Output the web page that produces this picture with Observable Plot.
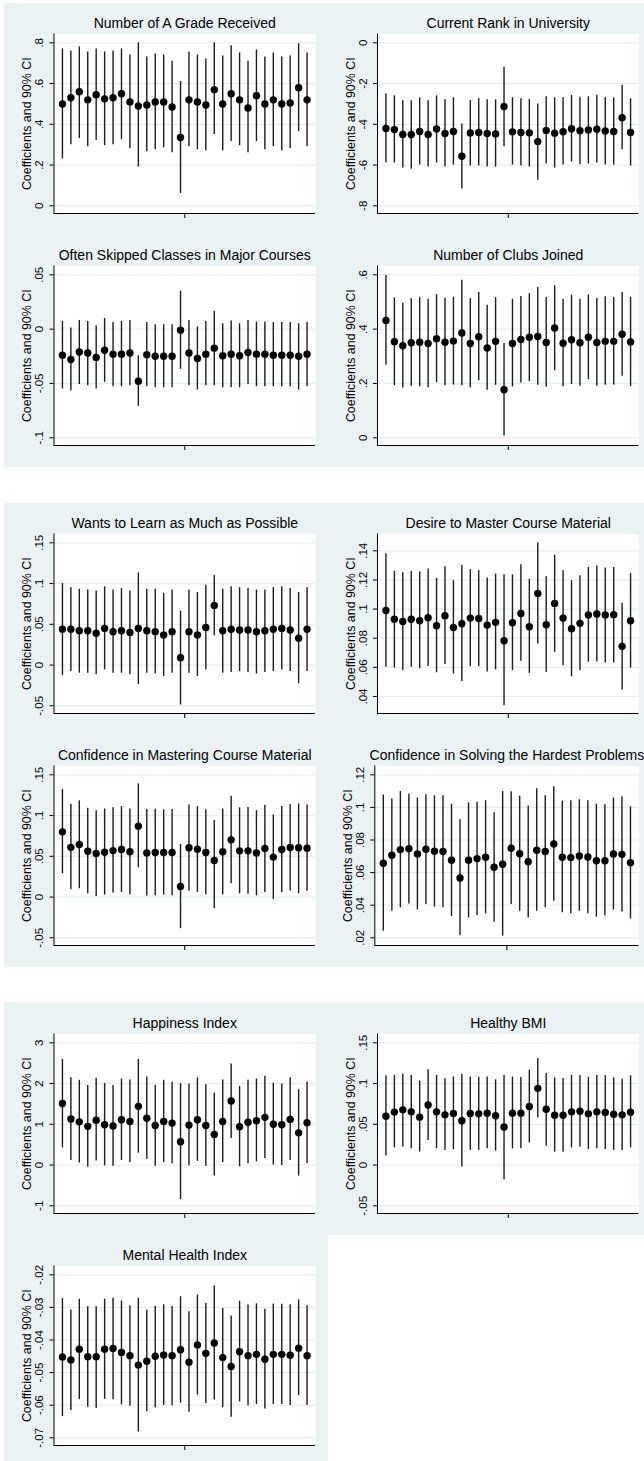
<!DOCTYPE html>
<html><head><meta charset="utf-8">
<script src="https://cdn.jsdelivr.net/npm/d3@7"></script>
<script src="https://cdn.jsdelivr.net/npm/@observablehq/plot@0.6"></script>
<style>
html,body{margin:0;padding:0;background:#fff;}
#root{position:relative;width:644px;height:1461px;overflow:hidden;background:#fff;font-family:"Liberation Sans",Arial,Helvetica,sans-serif;}
.bg{position:absolute;background:#EAF2F3;}
.cell{position:absolute;width:322px;height:232px;}
</style></head><body><div id="root"></div>
<script>
// ---------- data (coefficient, lower and upper 90% CI), 30 specifications each ----------
const yAxisLabel = "Coefficients and 90% CI";

const titles = [
  "Number of A Grade Received", "Current Rank in University",
  "Often Skipped Classes in Major Courses", "Number of Clubs Joined",
  "Wants to Learn as Much as Possible", "Desire to Master Course Material",
  "Confidence in Mastering Course Material", "Confidence in Solving the Hardest Problems",
  "Happiness Index", "Healthy BMI", "Mental Health Index"
];

const gradeCoef = [.50,.53,.56,.52,.545,.525,.53,.55,.51,.49,.495,.51,.51,.485,.335,.52,.51,.495,.57,.50,.55,.52,.48,.54,.50,.52,.50,.505,.58,.52];
const gradeHi   = [.77,.76,.78,.755,.77,.755,.76,.77,.74,.80,.73,.745,.74,.71,.61,.755,.74,.72,.80,.735,.785,.75,.71,.765,.73,.75,.73,.735,.795,.75];
const gradeLo   = [.23,.30,.33,.29,.32,.295,.30,.325,.28,.19,.265,.275,.285,.26,.06,.29,.275,.27,.35,.27,.315,.295,.26,.315,.275,.29,.27,.28,.365,.29];
const gradeTicks = [0,.2,.4,.6,.8];

const rankCoef = [-4.2,-4.26,-4.5,-4.5,-4.35,-4.5,-4.23,-4.45,-4.35,-5.57,-4.43,-4.4,-4.45,-4.47,-3.13,-4.37,-4.4,-4.42,-4.85,-4.3,-4.44,-4.36,-4.22,-4.32,-4.28,-4.24,-4.33,-4.35,-3.68,-4.4];
const rankHi   = [-2.5,-2.6,-2.85,-2.85,-2.7,-2.85,-2.6,-2.8,-2.7,-3.98,-2.83,-2.75,-2.8,-2.8,-1.2,-2.7,-2.75,-2.78,-3.0,-2.65,-2.7,-2.7,-2.58,-2.68,-2.65,-2.58,-2.7,-2.7,-2.1,-2.75];
const rankLo   = [-5.9,-5.9,-6.15,-6.2,-6.0,-6.1,-5.9,-6.1,-6.0,-7.17,-6.05,-6.05,-6.1,-6.1,-5.1,-6.0,-6.05,-6.1,-6.75,-5.95,-6.15,-6.0,-5.85,-5.98,-5.95,-5.9,-6.0,-6.0,-5.25,-6.05];
const rankTicks = [-8,-6,-4,-2,0];

const skipCoef = [-.024,-.028,-.021,-.022,-.026,-.0195,-.023,-.023,-.022,-.048,-.0235,-.025,-.025,-.025,-.001,-.022,-.027,-.023,-.0175,-.0245,-.023,-.0245,-.0215,-.023,-.023,-.024,-.024,-.024,-.025,-.023];
const skipHi   = [.007,.001,.008,.007,.003,.0098,.006,.007,.008,-.0245,.006,.004,.004,.004,.035,.008,.002,.007,.0165,.005,.0075,.005,.008,.0065,.0065,.006,.006,.006,.005,.006];
const skipLo   = [-.055,-.057,-.051,-.052,-.055,-.049,-.053,-.053,-.052,-.071,-.053,-.054,-.054,-.054,-.037,-.052,-.056,-.052,-.052,-.054,-.054,-.054,-.051,-.053,-.053,-.053,-.053,-.053,-.056,-.053];
const skipTicks = [-.1,-.05,0,.05];

const clubCoef = [.432,.354,.339,.35,.352,.347,.365,.352,.356,.386,.347,.372,.331,.355,.177,.347,.362,.37,.373,.351,.404,.348,.361,.35,.37,.351,.355,.355,.381,.353];
const clubHi   = [.597,.515,.495,.512,.516,.51,.527,.514,.518,.58,.512,.535,.488,.516,.347,.51,.52,.531,.553,.516,.56,.51,.525,.51,.526,.513,.519,.516,.535,.517];
const clubLo   = [.267,.192,.183,.19,.188,.184,.203,.192,.194,.192,.184,.21,.175,.193,.007,.187,.202,.207,.193,.186,.247,.188,.196,.19,.214,.19,.193,.194,.227,.188];
const clubTicks = [0,.2,.4,.6];

const learnCoef = [.044,.044,.042,.042,.039,.045,.041,.042,.040,.045,.042,.041,.037,.041,.009,.041,.037,.046,.073,.042,.044,.043,.043,.041,.042,.044,.045,.043,.033,.044];
const learnHi   = [.100,.095,.093,.092,.091,.096,.092,.094,.091,.113,.093,.093,.088,.092,.066,.092,.089,.098,.110,.093,.096,.095,.094,.092,.092,.095,.096,.094,.089,.095];
const learnLo   = [-.013,-.008,-.010,-.010,-.012,-.006,-.010,-.010,-.012,-.024,-.010,-.011,-.014,-.010,-.049,-.010,-.014,-.006,.036,-.010,-.009,-.008,-.009,-.011,-.009,-.008,-.006,-.008,-.023,-.008];
const learnTicks = [-.05,0,.05,.1,.15];

const masterCoef = [.099,.093,.0915,.093,.092,.094,.0886,.0955,.0874,.090,.0938,.0936,.089,.0909,.0783,.0906,.097,.0879,.1107,.0892,.1039,.0938,.0865,.0902,.0959,.0966,.0959,.0961,.0744,.092];
const masterHi   = [.138,.126,.125,.126,.1255,.1275,.121,.129,.1195,.130,.127,.1263,.1213,.124,.1235,.1235,.1305,.1204,.1455,.1222,.137,.1263,.1195,.1229,.1286,.1295,.1282,.1286,.104,.1245];
const masterLo   = [.060,.0595,.0578,.060,.059,.0605,.0563,.062,.0554,.0503,.0604,.0604,.0568,.0582,.0336,.0577,.0641,.0558,.076,.0565,.0703,.0611,.0535,.0577,.0636,.0636,.063,.063,.0444,.0595];
const masterTicks = [.04,.06,.08,.1,.12,.14];

const confCoef = [.080,.061,.0645,.0563,.0535,.055,.057,.0584,.0555,.087,.054,.0547,.0547,.0547,.013,.0604,.0588,.0547,.0449,.0555,.0702,.0567,.0567,.054,.0596,.049,.0584,.0608,.0604,.060];
const confHi   = [.132,.1135,.118,.109,.106,.108,.1095,.111,.108,.1388,.1073,.1078,.107,.1073,.0645,.113,.111,.107,.094,.108,.1237,.1094,.110,.106,.1127,.1008,.111,.1135,.1143,.113];
const confLo   = [.0286,.009,.0102,.004,.0008,.0024,.005,.0057,.0029,.036,.0012,.0016,.0024,.0016,-.0388,.007,.0057,.0029,-.0143,.0029,.0163,.004,.0033,.0016,.0057,-.003,.0053,.0073,.004,.007];
const confTicks = [-.05,0,.05,.1,.15];

const hardCoef = [.0657,.0706,.0741,.0747,.0714,.0743,.0731,.0729,.0676,.0567,.0676,.0686,.0694,.0633,.0651,.0749,.0716,.0667,.0737,.0729,.0776,.0694,.0692,.0702,.0696,.0673,.0673,.0714,.0712,.0661];
const hardHi   = [.1076,.1051,.1098,.1082,.1057,.1078,.1071,.1071,.102,.0924,.1027,.1031,.1041,.0967,.1098,.1096,.1069,.1008,.1114,.1071,.1127,.1037,.1041,.1047,.1041,.102,.1016,.1057,.1065,.1004];
const hardLo   = [.0241,.0363,.0384,.0408,.0371,.0404,.0388,.0384,.0331,.0214,.0322,.0337,.0347,.0296,.021,.0404,.0363,.0322,.0363,.0384,.0424,.0353,.0347,.0363,.0347,.0327,.0333,.0371,.0359,.0316];
const hardTicks = [.02,.04,.06,.08,.1,.12];

const happyCoef = [1.51,1.13,1.06,.95,1.10,.99,.96,1.11,1.07,1.44,1.15,.97,1.07,1.03,.57,.98,1.11,.97,.75,1.07,1.57,.94,1.05,1.09,1.17,1.00,.99,1.12,.79,1.04];
const happyHi   = [2.59,2.14,2.08,1.95,2.13,2.0,1.95,2.11,2.09,2.59,2.16,1.96,2.08,2.03,2.0,1.99,2.14,1.97,1.77,2.09,2.48,1.93,2.08,2.11,2.18,2.01,1.99,2.14,1.85,2.04];
const happyLo   = [.42,.11,.05,-.05,.10,-.02,-.03,.11,.06,.29,.14,-.03,.06,.03,-.85,-.02,.09,-.03,-.27,.06,.65,-.04,.03,.08,.16,0,-.01,.11,-.27,.03];
const happyTicks = [-1,0,1,2,3];

const bmiCoef = [.060,.065,.0677,.0653,.0588,.0738,.0653,.0616,.0633,.0543,.0633,.0628,.0637,.0604,.0466,.0637,.0637,.0718,.0941,.0685,.0612,.0612,.0653,.0661,.0628,.0653,.0645,.0624,.0616,.0649];
const bmiHi   = [.1095,.110,.1115,.110,.103,.117,.110,.106,.108,.1115,.108,.1075,.108,.1046,.110,.108,.1075,.1164,.1306,.1123,.107,.1062,.110,.110,.1075,.110,.1095,.107,.1054,.1095];
const bmiLo   = [.011,.021,.022,.020,.016,.030,.020,.018,.0187,-.0024,.0182,.0182,.0199,.017,-.018,.0199,.0199,.0272,.0576,.0231,.0158,.0158,.021,.0223,.019,.0199,.019,.018,.018,.021];
const bmiTicks = [-.05,0,.05,.1,.15];

const mentalCoef = [-.0452,-.0461,-.0428,-.0451,-.0451,-.0428,-.0426,-.0438,-.0448,-.0477,-.0465,-.045,-.0446,-.0448,-.043,-.0468,-.0415,-.0441,-.0409,-.0454,-.0481,-.0436,-.0448,-.0444,-.0459,-.0444,-.0444,-.0447,-.0425,-.0448];
const mentalHi   = [-.0273,-.0308,-.0275,-.0298,-.0298,-.0275,-.0272,-.028,-.0295,-.0272,-.0308,-.0297,-.0292,-.0297,-.0267,-.0313,-.0262,-.0288,-.0234,-.0303,-.0326,-.0281,-.0293,-.0289,-.0306,-.029,-.029,-.0292,-.0277,-.0295];
const mentalLo   = [-.0635,-.0616,-.0583,-.0606,-.061,-.0582,-.0583,-.0599,-.0603,-.0682,-.062,-.0608,-.0601,-.0602,-.0594,-.0622,-.0569,-.0595,-.0584,-.0608,-.0637,-.059,-.0602,-.0598,-.0612,-.0598,-.0598,-.0601,-.057,-.0601];
const mentalTicks = [-.07,-.06,-.05,-.04,-.03,-.02];

// ---------- layout ----------
const root = document.getElementById("root");
function bg(l, t, w, h) {
  const d = document.createElement("div");
  d.className = "bg";
  Object.assign(d.style, {left: l + "px", top: t + "px", width: w + "px", height: h + "px"});
  root.appendChild(d);
}
bg(4, 3, 640, 464);
bg(4, 503, 640, 464);
bg(4, 1002, 640, 233);
bg(4, 1235, 324, 226);

const panels = [
  {g: 0, r: 0, c: 0, coef: gradeCoef, lo: gradeLo, hi: gradeHi, ticks: gradeTicks},
  {g: 0, r: 0, c: 1, coef: rankCoef, lo: rankLo, hi: rankHi, ticks: rankTicks},
  {g: 0, r: 1, c: 0, coef: skipCoef, lo: skipLo, hi: skipHi, ticks: skipTicks},
  {g: 0, r: 1, c: 1, coef: clubCoef, lo: clubLo, hi: clubHi, ticks: clubTicks},
  {g: 1, r: 0, c: 0, coef: learnCoef, lo: learnLo, hi: learnHi, ticks: learnTicks},
  {g: 1, r: 0, c: 1, coef: masterCoef, lo: masterLo, hi: masterHi, ticks: masterTicks},
  {g: 1, r: 1, c: 0, coef: confCoef, lo: confLo, hi: confHi, ticks: confTicks},
  {g: 1, r: 1, c: 1, coef: hardCoef, lo: hardLo, hi: hardHi, ticks: hardTicks, ml: 52.3},
  {g: 2, r: 0, c: 0, coef: happyCoef, lo: happyLo, hi: happyHi, ticks: happyTicks},
  {g: 2, r: 0, c: 1, coef: bmiCoef, lo: bmiLo, hi: bmiHi, ticks: bmiTicks},
  {g: 2, r: 1, c: 0, coef: mentalCoef, lo: mentalLo, hi: mentalHi, ticks: mentalTicks}
];

function stataFmt(v) {
  let s = String(+v.toFixed(4));
  return s.replace(/^0\./, ".").replace(/^-0\./, "-.");
}

const FONT = '"Liberation Sans", Arial, Helvetica, sans-serif';
const W = 322, H = 232;
const frameTop = 33.5, frameBot = 213, rangeTop = 42.3, rangeBot = 205.3;

panels.forEach((p, idx) => {
  // Stata-like range: union of the tick range and the data range
  const B = Math.min(p.ticks[0], d3.min(p.lo));
  const T = Math.max(p.ticks[p.ticks.length - 1], d3.max(p.hi));
  const k = (rangeBot - rangeTop) / (T - B);
  const yDomain = [B - (frameBot - rangeBot) / k, T + (rangeTop - frameTop) / k];
  const data = p.coef.map((c, i) => ({i: i + 1, c, lo: p.lo[i], hi: p.hi[i]}));
  const ml = p.ml ?? (p.c === 0 ? 53.5 : 55);
  const mr = p.c === 0 ? 7 : 5.5;
  const svg = Plot.plot({
    width: W, height: H,
    marginTop: frameTop, marginBottom: H - frameBot, marginLeft: ml, marginRight: mr,
    x: {domain: [0, 31]},
    y: {domain: yDomain},
    style: {background: "transparent", overflow: "visible", fontFamily: FONT, color: "#000"},
    marks: [
      Plot.frame({fill: "white", stroke: "none"}),
      Plot.ruleY(p.ticks, {stroke: "#E4EDEF", strokeWidth: 1.2}),
      Plot.ruleX(data, {x: "i", y1: "lo", y2: "hi", stroke: "#1c1c1c", strokeWidth: 1.4}),
      Plot.dot(data, {x: "i", y: "c", r: 3.7, fill: "#000", stroke: "none"}),
      Plot.ruleX([0], {stroke: "#000", strokeWidth: 1}),
      Plot.ruleY([yDomain[0]], {stroke: "#000", strokeWidth: 1}),
      Plot.axisY({ticks: p.ticks, tickFormat: stataFmt, tickSize: 4, tickPadding: 7, tickRotate: -90, fontSize: 11.5, label: null}),
      Plot.axisX({ticks: [15.5], tickFormat: () => "", tickSize: 5, label: null}),
      Plot.text([titles[idx]], {frameAnchor: "top", dy: 23 - frameTop, fontSize: 14, lineAnchor: "middle", textAnchor: "middle", fill: "#000"}),
      Plot.text([yAxisLabel], {frameAnchor: "left", dx: -22.8, rotate: -90, lineAnchor: "bottom", textAnchor: "middle", fontSize: 12.4, fill: "#000"})
    ]
  });
  const cell = document.createElement("div");
  cell.className = "cell";
  cell.style.left = (p.c * 322) + "px";
  cell.style.top = (p.g * 500 + p.r * 232) + "px";
  cell.appendChild(svg);
  root.appendChild(cell);
});
</script></body></html>
